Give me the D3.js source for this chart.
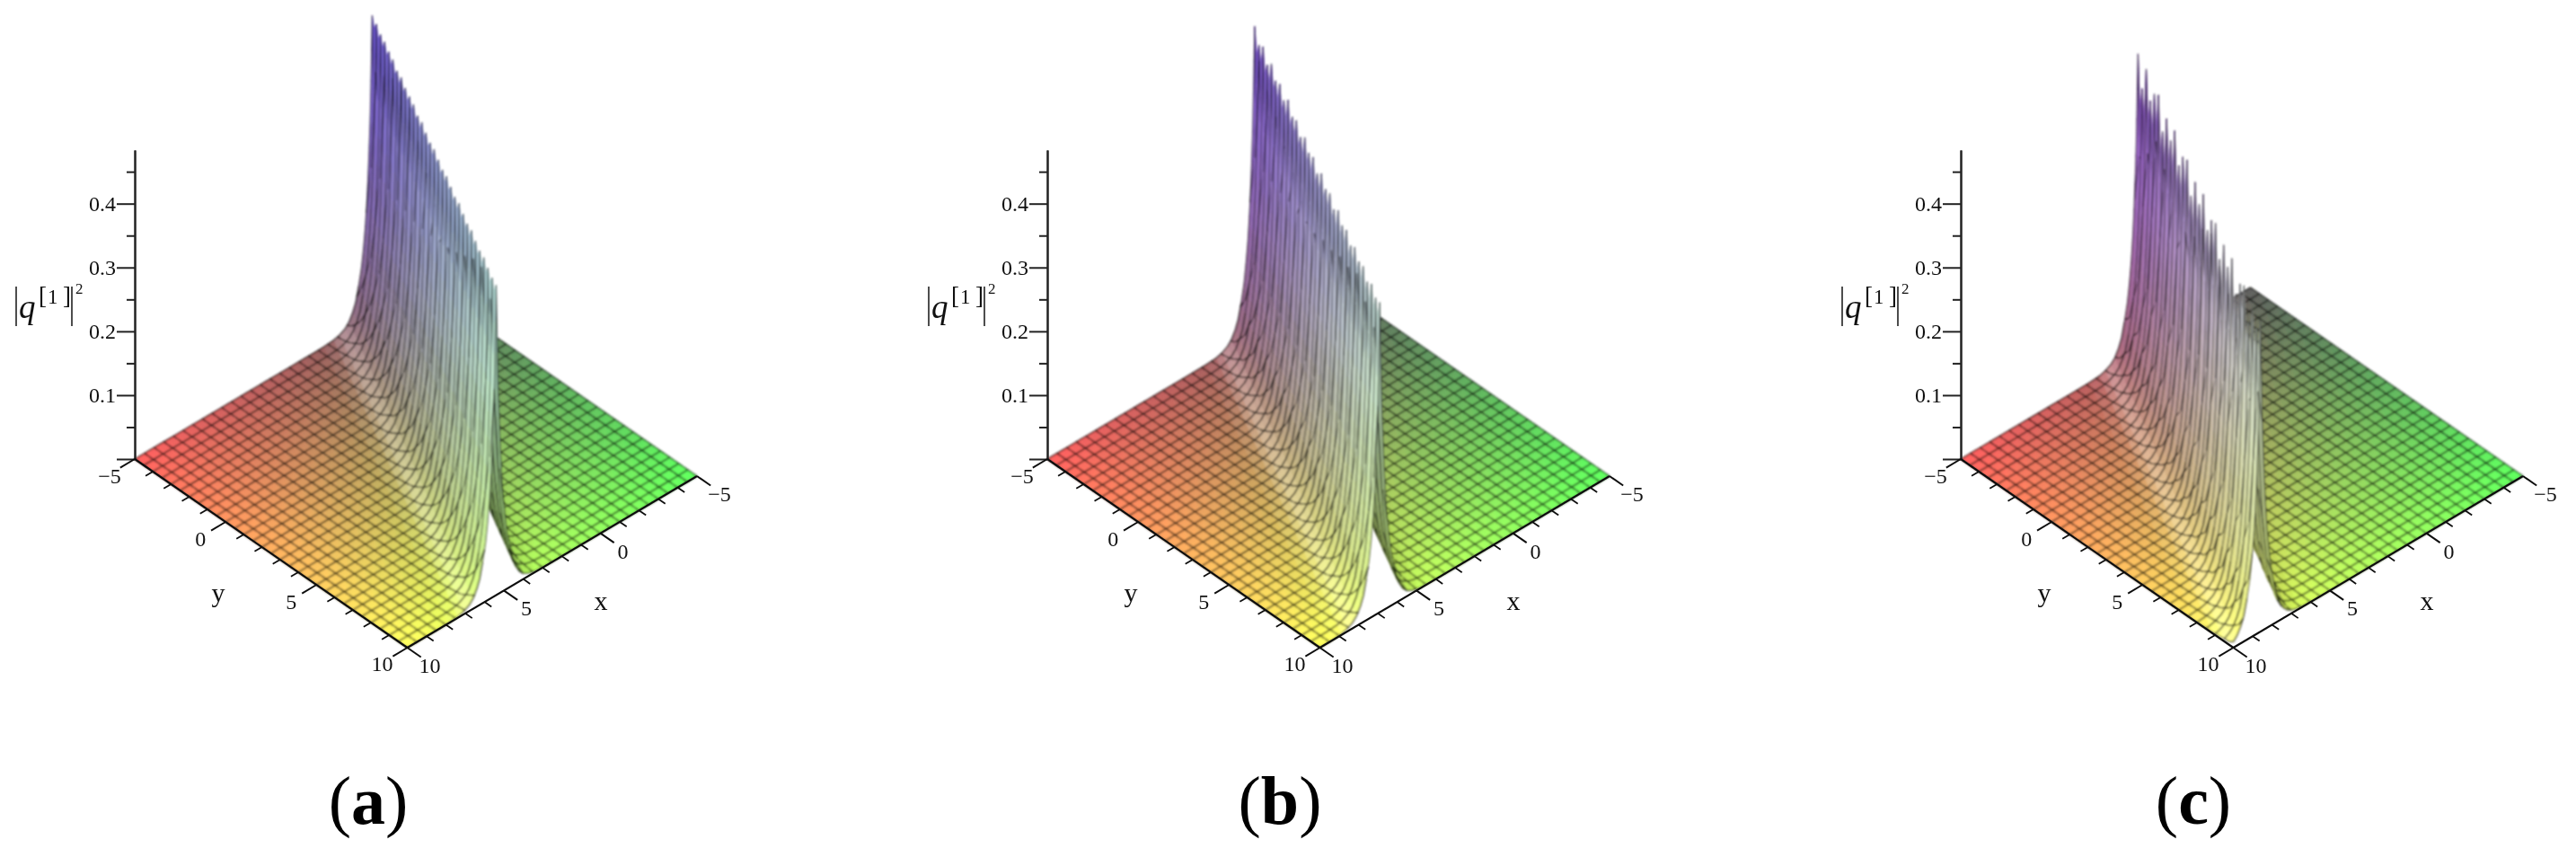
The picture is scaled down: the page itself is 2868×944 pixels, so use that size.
<!DOCTYPE html>
<html><head><meta charset="utf-8">
<script src="https://cdnjs.cloudflare.com/ajax/libs/d3/7.8.5/d3.min.js"></script>
<style>html,body{margin:0;background:#fff}svg{display:block}text{font-family:"Liberation Serif",serif;fill:#111}</style>
</head><body><svg id="c" width="2868" height="944"></svg>
<script>
const panelNames = ["a","b","c"];
const panelLeft = [150,1166,2183];
const captionX = [410,1425,2442];
const ridgeStartX = [-2.3,-0.74,0.82];
const ridgeEndX = [5.4,6.9,8.6];
const ridgeTopA = [.474,.475,.473,.476,.475,.477,.474,.478,.476,.477,.479,.476,.48,.478,.477,.481,.479,.478,.482,.48,.479,.483,.481,.48,.484,.482,.481,.485,.483,.482,.485];
const ridgeTopB = [.485,.47,.482,.468,.484,.472,.481,.47,.485,.473,.482,.47,.484,.474,.482,.471,.485,.475,.483,.472,.485,.476,.483,.473,.485,.477,.484,.474,.485,.478,.485];
const ridgeTopC = [.47,.43,.475,.44,.465,.478,.435,.47,.45,.48,.44,.468,.478,.436,.472,.452,.482,.44,.47,.48,.438,.475,.455,.483,.442,.472,.484,.44,.476,.46,.487];
const ridgeTops = [ridgeTopA,ridgeTopB,ridgeTopC];
const ridgeNotch = [.03,.05,.1];
const profileOffset = [0,.05,.1,.18,.3,.41,.55,.65,.85,1.1,1.5,2,2.6];
const profileFraction = [1,.82,.67,.52,.36,.27,.19,.15,.085,.04,.012,.003,0];
const zMajor = [0,.1,.2,.3,.4];
const zMinor = [.05,.15,.25,.35,.45];
const groundMajor = [-5,0,5,10];
const groundMinor = [-4,-3,-2,-1,1,2,3,4,6,7,8,9];
const gridStep = .5, rowStep = .25;

const pxX = d3.scaleLinear([10,-5],[0,322.5]), pyX = d3.scaleLinear([10,-5],[0,-191]);
const pxY = d3.scaleLinear([-5,10],[0,303.5]), pyY = d3.scaleLinear([-5,10],[0,210]);
const zPx = d3.scaleLinear([0,.484],[0,344]);
const baseY = 511;
const prof = d3.scaleLinear(profileOffset,profileFraction).clamp(true);
const chan = d3.scaleLinear([0,1],[.33,1]).clamp(true);
const zChan = d3.scalePow().exponent(.65).domain([0,1]).range([.33,1]).clamp(true);
const tx = d3.scaleLinear([-5,10],[0,1]), ty = d3.scaleLinear([-5,10],[0,1]);
const H = (()=>{const v=[.62,.22,.75],m=Math.hypot(...v);return v.map(d=>d/m)})();

const svg = d3.select("#c");
const defs = svg.append("defs");
defs.append("filter").attr("id","soft").attr("x","-5%").attr("y","-5%").attr("width","110%").attr("height","110%")
  .append("feGaussianBlur").attr("stdDeviation",.8);
defs.append("filter").attr("id","softer").attr("x","-5%").attr("y","-5%").attr("width","110%").attr("height","110%")
  .append("feGaussianBlur").attr("stdDeviation",.4);

const uDense = [.03,.06,.1,.15,.2,.27,.35,.45,.55,.7,.85,1,1.2,1.4,1.7,2,2.5,3];
const uCoarse = d3.range(3.5,17,.5);
const uList = [...[...uCoarse].reverse().map(d=>-d),...[...uDense].reverse().map(d=>-d),0,...uDense,...uCoarse];

panelNames.forEach((name,pi)=>{
  const ox = panelLeft[pi];
  const P = (x,y,z)=>[ox+pxX(x)+pxY(y), baseY+pyX(x)+pyY(y)-zPx(z)];
  const xc = d3.scaleLinear([-5,10],[ridgeStartX[pi],ridgeEndX[pi]]);
  const tops = ridgeTops[pi];
  const h = y=>{
    const k=(y+5)/gridStep, i=Math.round(k);
    if(Math.abs(k-i)<1e-6) return tops[i];
    const a=Math.floor(k), b=Math.min(a+1,tops.length-1);
    return Math.min(tops[a],tops[b])*(1-ridgeNotch[pi]);
  };
  const Z = (x,y)=>h(y)*prof(Math.abs(x-xc(y)));
  const Z0 = (x,y)=>.48*prof(Math.abs(x-xc(y)));
  const color = (x,y)=>{
    const e=.07, unit=25;
    const zx=(zPx(Z0(x+e,y))-zPx(Z0(x-e,y)))/(2*e*unit);
    const zy=(zPx(Z0(x,y+e))-zPx(Z0(x,y-e)))/(2*e*unit);
    const m=Math.hypot(zx,zy,1), n=[-zx/m,-zy/m,1/m];
    const dot=Math.max(0,n[0]*H[0]+n[1]*H[1]+n[2]*H[2]);
    const mult=.72+.4*dot, spec=Math.pow(dot,10)*.95+.14*Math.max(0,n[0]);
    const zf=Z(x,y)/.484;
    return d3.rgb(...[chan(tx(x)),chan(ty(y)),zChan(zf)].map(c=>{const v=Math.min(1,c*mult);return 255*(v+(1-v)*Math.min(1,spec))})).formatHex();
  };
  const path = pts=>"M"+pts.map(p=>p[0].toFixed(1)+","+p[1].toFixed(1)).join("L");
  const clampX = d3.scaleLinear([-5,10],[-5,10]).clamp(true);
  const elems=[];
  const rows=d3.range(-5,10+1e-9,rowStep);
  const gridX=d3.range(-5,10+1e-9,gridStep);
  const lineOuter={stroke:"rgba(0,0,0,.56)",sw:1.9}, lineInner={stroke:"rgba(0,0,0,.55)",sw:1.25};
  const innerU=.6;
  const rowLine=yy=>{
    const cc=xc(yy);
    const uniq=l=>[...new Set(l.map(u=>clampX(cc+u)))];
    const left=uList.filter(u=>u<=-innerU), mid=uList.filter(u=>u>=-innerU-.1&&u<=innerU+.15), right=uList.filter(u=>u>=innerU);
    [left,right].forEach(l=>elems.push({d:path(uniq(l).map(x=>P(x,yy,Z(x,yy)))),fill:"none",...lineOuter}));
    elems.push({d:path(uniq(mid).map(x=>P(x,yy,Z(x,yy)))),fill:"none",...lineInner});
  };
  for(let r=0;r<rows.length-1;r++){
    const y0=rows[r],y1=rows[r+1];
    const strip=[];
    for(let i=0;i<uList.length-1;i++){
      const a0=clampX(xc(y0)+uList[i]),a1=clampX(xc(y0)+uList[i+1]);
      const b0=clampX(xc(y1)+uList[i]),b1=clampX(xc(y1)+uList[i+1]);
      if(a1-a0<1e-6&&b1-b0<1e-6) continue;
      const cx=(a0+a1+b0+b1)/4, cy=(y0+y1)/2;
      const col=color(cx,cy);
      strip.push({key:cx,d:path([P(a0,y0,Z(a0,y0)),P(a1,y0,Z(a1,y0)),P(b1,y1,Z(b1,y1)),P(b0,y1,Z(b0,y1))])+"Z",fill:col,stroke:col,sw:.7});
    }
    strip.sort((p,q)=>p.key-q.key).forEach(e=>elems.push(e));
    const isInner=x=>Math.abs(x-xc(y0))<innerU;
    const segs=l=>l.map(x=>path([P(x,y0,Z(x,y0)),P(x,y1,Z(x,y1))])).join("");
    const outer=gridX.filter(x=>!isInner(x)), inner=gridX.filter(isInner);
    if(outer.length) elems.push({d:segs(outer),fill:"none",...lineOuter});
    if(inner.length) elems.push({d:segs(inner),fill:"none",...lineInner});
    const k=(y0+5)/gridStep;
    if(Math.abs(k-Math.round(k))<1e-6) rowLine(y0);
    if(r===rows.length-2) rowLine(y1);
  }
  const g=svg.append("g").attr("class","panel-"+name);
  g.append("g").attr("filter","url(#soft)").selectAll("path").data(elems).join("path")
    .attr("d",d=>d.d).attr("fill",d=>d.fill).attr("stroke",d=>d.stroke).attr("stroke-width",d=>d.sw).attr("stroke-linejoin","round");

  const ax=g.append("g").attr("filter","url(#softer)");
  const zScale=d3.scaleLinear([0,.484],[baseY,baseY-344]);
  const zg=ax.append("g").attr("transform",`translate(${ox},0)`);
  const styleAxis=s=>{s.select(".domain").attr("stroke","#222").attr("stroke-width",2);s.selectAll("line").attr("stroke","#222").attr("stroke-width",2);};
  zg.append("g").call(d3.axisLeft(zScale).tickValues(zMajor).tickSize(20).tickSizeOuter(0).tickPadding(1).tickFormat(d=>d===0?"":d3.format(".1f")(d))).call(styleAxis)
    .selectAll("text").attr("font-size",24).attr("font-family","Liberation Serif").attr("fill","#111");
  zg.append("g").call(d3.axisLeft(zScale).tickValues(zMinor).tickSize(9).tickSizeOuter(0).tickFormat("")).call(styleAxis);
  const label=(x,y,t,fs,st)=>g.append("text").attr("x",x).attr("y",y).attr("text-anchor","middle").attr("dominant-baseline","central").attr("font-size",fs).attr("font-style",st||null).text(t);
  const seg=(a,b,sw)=>ax.append("line").attr("x1",a[0]).attr("y1",a[1]).attr("x2",b[0]).attr("y2",b[1]).attr("stroke","#111").attr("stroke-width",sw);
  seg(P(10,-5,0),P(10,10,0),2.2); seg(P(10,10,0),P(-5,10,0),2.2);
  groundMajor.forEach(v=>{seg(P(10,v,0),P(10.75,v,0),2);seg(P(v,10,0),P(v,10.75,0),2);});
  groundMinor.forEach(v=>{seg(P(10,v,0),P(10.38,v,0),1.8);seg(P(v,10,0),P(v,10.38,0),1.8);});
  const fmt=v=>v<0?"\u2212"+Math.abs(v):String(v);
  groundMajor.forEach(v=>{
    const a=P(10,v,0), b=P(v,10,0);
    label(a[0]-28,a[1]+(v===10?18:19),fmt(v),24);
    label(b[0]+25,b[1]+20,fmt(v),24);
  });
  label(ox+93,149+511-1,"y",30);
  label(ox+519,158+511-1,"x",30);
  [-132,-70].forEach(dx=>ax.append("line").attr("x1",ox+dx).attr("x2",ox+dx).attr("y1",319).attr("y2",363).attr("stroke","#222").attr("stroke-width",1.6));
  g.append("text").attr("x",ox-129).attr("y",354).attr("font-size",37).attr("font-style","italic").text("q");
  g.append("text").attr("x",ox-107).attr("y",338).attr("font-size",27).text("[");
  g.append("text").attr("x",ox-97).attr("y",338).attr("font-size",23).text("1");
  g.append("text").attr("x",ox-80).attr("y",338).attr("font-size",27).text("]");
  g.append("text").attr("x",ox-66).attr("y",327).attr("font-size",17).text("2");
  const cap=g.append("text").attr("x",captionX[pi]).attr("y",917).attr("text-anchor","middle").attr("font-size",76).style("fill","#000");
  cap.append("tspan").text("(");
  cap.append("tspan").attr("font-weight","bold").text(name);
  cap.append("tspan").text(")");
});
</script></body></html>
